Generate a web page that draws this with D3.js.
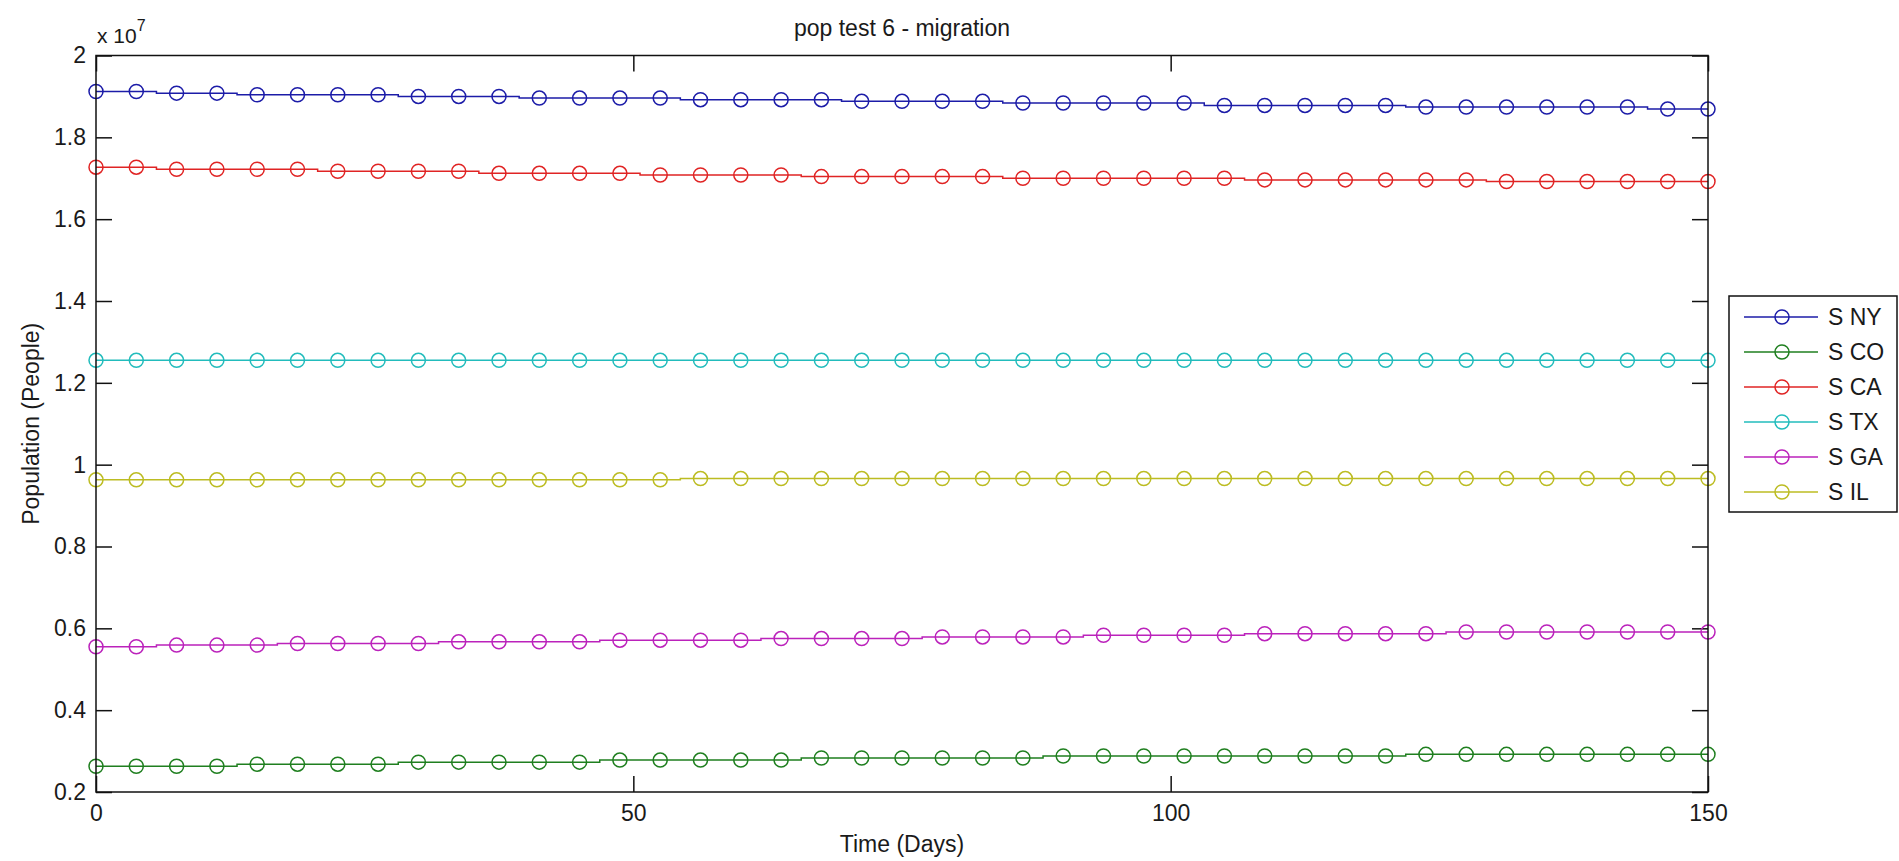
<!DOCTYPE html>
<html>
<head>
<meta charset="utf-8">
<script src="https://cdn.jsdelivr.net/npm/d3@7"></script>
<style>
  body { margin: 0; background: #fff; }
  text { font-family: "Liberation Sans", Arial, sans-serif; fill: #1a1a1a; }
</style>
</head>
<body>
<script>
// time points (days) where the markers sit
var days = [0, 3.75, 7.5, 11.25, 15, 18.75, 22.5, 26.25, 30, 33.75, 37.5, 41.25, 45, 48.75,
  52.5, 56.25, 60, 63.75, 67.5, 71.25, 75, 78.75, 82.5, 86.25, 90, 93.75, 97.5, 101.25,
  105, 108.75, 112.5, 116.25, 120, 123.75, 127.5, 131.25, 135, 138.75, 142.5, 146.25, 150];

// populations, in units of 10^7 people
var sNY = [1.912, 1.912, 1.908, 1.908, 1.904, 1.904, 1.904, 1.904, 1.900, 1.900, 1.900,
  1.896, 1.896, 1.896, 1.896, 1.892, 1.892, 1.892, 1.892, 1.888, 1.888, 1.888, 1.888,
  1.884, 1.884, 1.884, 1.884, 1.884, 1.878, 1.878, 1.878, 1.878, 1.878,
  1.874, 1.874, 1.874, 1.874, 1.874, 1.874, 1.869, 1.869];
var sCO = [0.263, 0.263, 0.263, 0.263, 0.268, 0.268, 0.268, 0.268, 0.273, 0.273, 0.273,
  0.273, 0.273, 0.278, 0.278, 0.278, 0.278, 0.278, 0.283, 0.283, 0.283, 0.283, 0.283,
  0.283, 0.288, 0.288, 0.288, 0.288, 0.288, 0.288, 0.288, 0.288, 0.288,
  0.292, 0.292, 0.292, 0.292, 0.292, 0.292, 0.292, 0.292];
var sCA = [1.727, 1.727, 1.722, 1.722, 1.722, 1.722, 1.717, 1.717, 1.717, 1.717, 1.712,
  1.712, 1.712, 1.712, 1.708, 1.708, 1.708, 1.708, 1.704, 1.704, 1.704, 1.704, 1.704,
  1.700, 1.700, 1.700, 1.700, 1.700, 1.700, 1.696, 1.696, 1.696, 1.696, 1.696, 1.696,
  1.692, 1.692, 1.692, 1.692, 1.692, 1.692];
var sTX = [1.255, 1.255, 1.255, 1.255, 1.255, 1.255, 1.255, 1.255, 1.255, 1.255, 1.255,
  1.255, 1.255, 1.255, 1.255, 1.255, 1.255, 1.255, 1.255, 1.255, 1.255, 1.255, 1.255,
  1.255, 1.255, 1.255, 1.255, 1.255, 1.255, 1.255, 1.255, 1.255, 1.255, 1.255, 1.255,
  1.255, 1.255, 1.255, 1.255, 1.255, 1.255];
var sGA = [0.555, 0.555, 0.559, 0.559, 0.559, 0.563, 0.563, 0.563, 0.563, 0.567, 0.567,
  0.567, 0.567, 0.571, 0.571, 0.571, 0.571, 0.575, 0.575, 0.575, 0.575, 0.579, 0.579,
  0.579, 0.579, 0.583, 0.583, 0.583, 0.583, 0.587, 0.587, 0.587, 0.587, 0.587,
  0.591, 0.591, 0.591, 0.591, 0.591, 0.591, 0.591];
var sIL = [0.963, 0.963, 0.963, 0.963, 0.963, 0.963, 0.963, 0.963, 0.963, 0.963, 0.963,
  0.963, 0.963, 0.963, 0.963, 0.966, 0.966, 0.966, 0.966, 0.966, 0.966, 0.966, 0.966,
  0.966, 0.966, 0.966, 0.966, 0.966, 0.966, 0.966, 0.966, 0.966, 0.966, 0.966, 0.966,
  0.966, 0.966, 0.966, 0.966, 0.966, 0.966];

var seriesNames = ["S NY", "S CO", "S CA", "S TX", "S GA", "S IL"];
var seriesValues = [sNY, sCO, sCA, sTX, sGA, sIL];
var seriesColors = ["#1c1ca8", "#1f7f1f", "#e02424", "#22bcbc", "#bb22bb", "#bcbc22"];

var xTicks = [0, 50, 100, 150];
var yTicks = [0.2, 0.4, 0.6, 0.8, 1.0, 1.2, 1.4, 1.6, 1.8, 2.0];

var margin = {top: 55.5, right: 191, bottom: 69, left: 96},
    width = 1899 - margin.left - margin.right,
    height = 861 - margin.top - margin.bottom;

var svg = d3.select('body').append('svg')
  .attr('width', 1899)
  .attr('height', 861);

var g = svg.append('g')
  .attr('transform', 'translate(' + margin.left + ',' + margin.top + ')');

var x = d3.scaleLinear().domain([0, 150]).range([0, width]);
var y = d3.scaleLinear().domain([0.2, 2]).range([height, 0]);

var fmt = function(d) { return String(+d.toFixed(1)); };

var tick = 16;

var xAxis = g.append('g')
  .attr('transform', 'translate(0,' + height + ')')
  .call(d3.axisBottom(x).tickValues(xTicks).tickFormat(fmt)
    .tickSizeInner(-tick).tickSizeOuter(0).tickPadding(13));
g.append('g')
  .call(d3.axisTop(x).tickValues(xTicks).tickFormat('')
    .tickSizeInner(-tick).tickSizeOuter(0));
g.append('g')
  .call(d3.axisLeft(y).tickValues(yTicks).tickFormat(fmt)
    .tickSizeInner(-tick).tickSizeOuter(0).tickPadding(10));
g.append('g')
  .attr('transform', 'translate(' + width + ',0)')
  .call(d3.axisRight(y).tickValues(yTicks).tickFormat('')
    .tickSizeInner(-tick).tickSizeOuter(0));

g.selectAll('.domain').remove();
g.selectAll('.tick line').attr('stroke', '#111').attr('stroke-width', 1.5);
g.selectAll('.tick text')
  .style('font-size', '23px')
  .attr('fill', '#1a1a1a');

var line = d3.line()
  .x(function(d, i) { return x(days[i]); })
  .y(function(d) { return y(d); })
  .curve(d3.curveStep);

seriesValues.forEach(function(vals, k) {
  g.append('path')
    .datum(vals)
    .attr('fill', 'none')
    .attr('stroke', seriesColors[k])
    .attr('stroke-width', 1.5)
    .attr('d', line);

  g.selectAll('.m' + k)
    .data(vals)
    .enter()
    .append('circle')
    .attr('cx', function(d, i) { return x(days[i]); })
    .attr('cy', function(d) { return y(d); })
    .attr('r', 7)
    .attr('fill', 'none')
    .attr('stroke', seriesColors[k])
    .attr('stroke-width', 1.5);
});

// axes box
g.append('rect')
  .attr('width', width)
  .attr('height', height)
  .attr('fill', 'none')
  .attr('stroke', '#111')
  .attr('stroke-width', 1.5);

// exponent
var ex = svg.append('text')
  .attr('x', margin.left + 1)
  .attr('y', 43)
  .style('font-size', '21px');
ex.append('tspan').text('x 10');
ex.append('tspan').attr('dy', -12).style('font-size', '16px').text('7');

svg.append('text')
  .attr('x', margin.left + width / 2)
  .attr('y', 36)
  .attr('text-anchor', 'middle')
  .style('font-size', '23px')
  .text('pop test 6 - migration');

svg.append('text')
  .attr('x', margin.left + width / 2)
  .attr('y', 852)
  .attr('text-anchor', 'middle')
  .style('font-size', '23px')
  .text('Time (Days)');

svg.append('text')
  .attr('transform', 'translate(39,' + (margin.top + height / 2) + ') rotate(-90)')
  .attr('text-anchor', 'middle')
  .style('font-size', '23px')
  .text('Population (People)');

// legend
var legend = svg.append('g').attr('transform', 'translate(1729,296)');
legend.append('rect')
  .attr('width', 168)
  .attr('height', 216)
  .attr('fill', '#fff')
  .attr('stroke', '#111')
  .attr('stroke-width', 1.5);

var item = legend.selectAll('.item')
  .data(seriesNames)
  .enter()
  .append('g')
  .attr('transform', function(d, i) { return 'translate(0,' + (21 + i * 35) + ')'; });

item.append('line')
  .attr('x1', 15).attr('x2', 89)
  .attr('stroke', function(d, i) { return seriesColors[i]; })
  .attr('stroke-width', 1.5);
item.append('circle')
  .attr('cx', 53)
  .attr('r', 7)
  .attr('fill', 'none')
  .attr('stroke', function(d, i) { return seriesColors[i]; })
  .attr('stroke-width', 1.5);
item.append('text')
  .attr('x', 99)
  .attr('dy', '0.35em')
  .style('font-size', '23px')
  .text(function(d) { return d; });
</script>
</body>
</html>
